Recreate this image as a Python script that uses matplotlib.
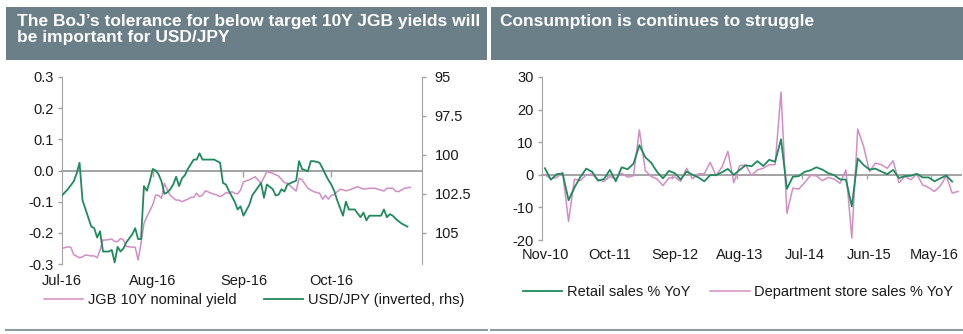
import pandas as pd
import numpy as np
import matplotlib
matplotlib.use('Agg')
import matplotlib.pyplot as plt
import matplotlib.dates as mdates
from matplotlib.patches import Rectangle
from matplotlib.lines import Line2D

plt.rcParams['font.family'] = ['Liberation Sans', 'DejaVu Sans']
plt.rcParams['axes.unicode_minus'] = False

# ---- left panel: JGB 10Y vs USD/JPY (days counted from 1 Jul 2016) ----
start = pd.Timestamp('2016-07-01')
jgb_day = [0, 2, 3, 4, 6, 7, 8, 10, 11, 12, 13, 14, 15, 17, 18, 19, 20, 21, 22, 24,
           25, 26, 27, 28, 29, 31, 32, 33, 34, 35, 36, 37, 39, 40, 41, 43, 44, 45, 46, 47,
           48, 49, 51, 53, 54, 55, 56, 57, 58, 59, 60, 61, 62, 64, 66, 68, 70, 72, 74, 76,
           77, 80, 81, 82, 84, 86, 88, 89, 90, 91, 92, 93, 95, 97, 98, 101, 103, 105, 107, 110,
           111, 113, 114, 115, 117, 119]
jgb_yield = [-0.25, -0.245, -0.246, -0.27, -0.28, -0.277, -0.271, -0.274, -0.274, -0.28,
             -0.255, -0.223, -0.223, -0.22, -0.228, -0.228, -0.218, -0.223, -0.244, -0.246,
             -0.246, -0.287, -0.234, -0.17, -0.148, -0.11, -0.079, -0.08, -0.089, -0.041,
             -0.063, -0.08, -0.095, -0.095, -0.1, -0.092, -0.086, -0.086, -0.073, -0.084,
             -0.079, -0.065, -0.073, -0.079, -0.084, -0.079, -0.071, -0.073, -0.068, -0.073,
             -0.075, -0.063, -0.036, -0.03, -0.02, -0.041, -0.004, -0.009, -0.018, -0.039,
             -0.041, -0.066, -0.025, -0.03, -0.057, -0.068, -0.073, -0.092, -0.08, -0.092,
             -0.08, -0.077, -0.06, -0.065, -0.063, -0.052, -0.06, -0.057, -0.057, -0.066,
             -0.057, -0.057, -0.066, -0.068, -0.057, -0.054]

usd_day = [0, 2, 4, 5, 6, 7, 10, 11, 12, 13, 14, 16, 17, 18, 19, 20, 21, 22, 24, 25,
           26, 27, 28, 29, 30, 31, 32, 33, 34, 35, 36, 37, 38, 39, 40, 41, 42, 43, 45, 46,
           47, 48, 50, 52, 54, 55, 56, 57, 59, 60, 61, 62, 64, 65, 68, 69, 70, 72, 73, 74,
           75, 76, 77, 80, 81, 82, 84, 85, 86, 88, 89, 90, 91, 92, 93, 94, 96, 97, 98, 100,
           102, 103, 104, 105, 107, 109, 110, 111, 112, 113, 114, 116, 118]
usd_jpy = [102.6, 102.2, 101.7, 101.2, 100.5, 102.9, 104.6, 104.7, 105.3, 104.9,
           106.2, 106.2, 106.1, 106.9, 105.9, 106.2, 106.0, 105.6, 105.1, 104.7,
           105.4, 105.4, 102.0, 102.3, 101.7, 100.9, 101.0, 101.25, 101.7, 102.5,
           102.4, 102.2, 101.9, 101.4, 102.0, 101.5, 101.3, 100.9, 100.3, 100.3,
           99.9, 100.3, 100.3, 100.3, 100.5, 101.8, 101.9, 102.3, 103.0, 103.5,
           103.3, 103.9, 103.2, 102.6, 101.8, 102.75, 101.9, 102.2, 102.6, 102.55,
           102.2, 102.35, 101.9, 101.65, 100.4, 100.9, 101.05, 100.4, 100.4, 100.5,
           100.85, 101.25, 101.6, 101.9, 102.3, 102.9, 103.9, 103.0, 103.5, 103.5,
           104.0, 103.7, 104.2, 103.9, 103.9, 103.9, 103.5, 104.0, 103.8, 103.9,
           104.1, 104.4, 104.6]

left_yticks = [-0.3, -0.2, -0.1, 0.0, 0.1, 0.2, 0.3]
right_yticks = [95, 97.5, 100, 102.5, 105]
month_starts = pd.to_datetime(['2016-07-01', '2016-08-01', '2016-09-01', '2016-10-01'])

# ---- right panel: monthly, Nov-10 onwards ----
retail = [2.0, -1.5, 0.2, 0.4, -7.8, -3.9, -0.7, 1.9, 0.9, -1.8,
          -1.3, 1.5, -2.0, 2.3, 1.7, 3.4, 9.1, 5.4, 3.7, 0.9,
          -1.1, 1.2, 0.5, -1.4, 1.0, 0.0, -0.8, -2.0, -0.1, -0.1,
          0.8, 1.8, 0.0, 1.5, 2.9, 2.6, 4.2, 2.7, 4.6, 4.0,
          10.9, -4.3, -0.6, -0.4, 0.9, 1.4, 2.3, 1.6, 0.5, -0.1,
          -1.4, -1.5, -9.7, 5.0, 3.0, 1.6, 1.9, 1.0, 0.2, 1.5,
          -1.0, -0.4, -0.3, 0.3, -0.8, -0.8, -2.0, -1.1, -0.2, -2.1]
dept_store = [0.0, -1.2, -0.8, 0.7, -14.3, -1.3, -1.8, 0.0, 0.2, -1.5,
              -2.0, -0.5, -1.2, 0.5, -0.7, -0.3, 13.8, 1.3, -0.5, -1.3,
              -3.3, -1.0, -0.7, -2.0, 2.0, -1.2, 0.3, 0.3, 3.8, -0.3,
              2.4, 7.2, -2.4, 2.8, 3.0, -0.2, 1.5, 2.0, 3.1, 3.1,
              25.4, -11.8, -4.1, -4.4, -2.4, -0.2, -0.3, -1.8, -0.8, -1.3,
              -2.6, 1.5, -19.4, 14.0, 8.7, 1.0, 3.6, 3.1, 2.0, 4.3,
              -2.4, -0.5, -1.5, 0.2, -3.1, -3.9, -5.1, -3.4, -0.3, -5.6, -5.1]
months = pd.date_range('2010-11-01', periods=len(dept_store), freq='MS')
cons_yticks = [-20, -10, 0, 10, 20, 30]

GREEN = '#1f8a5b'
PINK = '#d48cc6'
HEADER = '#6b7f88'
GREY = '#a3a3a3'
TXT = '#1a1a1a'
FS = 10.5

W, H = 963, 334
fig = plt.figure(figsize=(W / 100, H / 100), dpi=100)


def px(x0, y0, x1, y1):
    return [x0 / W, 1 - y1 / H, (x1 - x0) / W, (y1 - y0) / H]


def style_axis(ax, tick_pos, tick_len, label_pos, labels, pad):
    # the x axis crosses at zero (with small ticks); the labels sit at the bottom
    for s in ['top', 'right']:
        ax.spines[s].set_visible(False)
    ax.spines['left'].set_color(GREY)
    ax.spines['bottom'].set_position(('data', 0))
    ax.spines['bottom'].set_color(GREY)
    ax.spines['bottom'].set_linewidth(1.4)
    ax.set_xticks(tick_pos)
    ax.tick_params(axis='x', direction='out', length=tick_len, width=1,
                   color=GREY, labelbottom=False)
    ax.tick_params(axis='y', direction='out', length=3, width=1, color=GREY,
                   pad=3, labelsize=FS, labelcolor=TXT)
    sec = ax.secondary_xaxis('bottom')
    sec.set_xticks(label_pos)
    sec.set_xticklabels(labels)
    sec.tick_params(length=0, pad=pad, labelsize=FS, labelcolor=TXT)
    sec.spines['bottom'].set_visible(False)
    ax.patch.set_visible(False)


# header boxes and rules
for x0, x1 in [(6, 487), (491, 963)]:
    fig.add_artist(Rectangle((x0 / W, 1 - 60 / H), (x1 - x0) / W, 53 / H,
                             transform=fig.transFigure, color=HEADER, lw=0))
    fig.add_artist(Line2D([x0 / W, x1 / W], [1 - 330 / H] * 2,
                          transform=fig.transFigure, color='#8d9ca2', lw=1.5))
fig.text(17 / W, 1 - 14 / H,
         "The BoJ\u2019s tolerance for below target 10Y JGB yields will\nbe important for USD/JPY",
         color='white', fontsize=12.5, fontweight='bold', va='top', linespacing=1.12)
fig.text(500 / W, 1 - 14 / H, "Consumption is continues to struggle",
         color='white', fontsize=12.5, fontweight='bold', va='top')

# ---- left chart ----
ax1 = fig.add_axes(px(62, 77, 422, 264))
jgb_dates = start + pd.to_timedelta(jgb_day, unit='D')
usd_dates = start + pd.to_timedelta(usd_day, unit='D')
l1, = ax1.plot(jgb_dates, jgb_yield, color=PINK, lw=1.1, zorder=3)
ax1.set_ylim(-0.3, 0.3)
ax1.set_xlim(pd.Timestamp('2016-07-01'), pd.Timestamp('2016-11-01'))
ax1.set_yticks(left_yticks)
ax1.set_yticklabels([f'{v:.1f}' for v in left_yticks])
m_num = mdates.date2num(month_starts)
style_axis(ax1, m_num[1:], 4, m_num, [d.strftime('%b-%y') for d in month_starts], 7)

ax2 = ax1.twinx()
l2, = ax2.plot(usd_dates, usd_jpy, color=GREEN, lw=1.3)
ax2.set_ylim(107, 95)
ax2.set_yticks(right_yticks)
ax2.set_yticklabels([f'{v:g}' for v in right_yticks])
ax2.tick_params(axis='y', direction='out', length=3, width=1, color=GREY,
                pad=6, labelsize=FS, labelcolor=TXT)
for s in ['top', 'bottom', 'left']:
    ax2.spines[s].set_visible(False)
ax2.spines['right'].set_color(GREY)

fig.legend([l1, l2], ['JGB 10Y nominal yield', 'USD/JPY (inverted, rhs)'],
           loc='center', bbox_to_anchor=(254 / W, 1 - 300 / H), ncol=2,
           frameon=False, fontsize=FS, handlelength=2.7, handletextpad=0.3,
           columnspacing=1.9, labelcolor=TXT)

# ---- right chart ----
ax3 = fig.add_axes(px(542, 77, 961, 240))
idx_r = np.arange(len(retail))
idx_d = np.arange(len(dept_store))
l4, = ax3.plot(idx_d, dept_store, color=PINK, lw=1.1, zorder=3)
l3, = ax3.plot(idx_r, retail, color=GREEN, lw=1.3, zorder=4)
ax3.set_xlim(-0.5, len(dept_store) - 0.5)
ax3.set_ylim(-20, 30)
ax3.set_yticks(cons_yticks)
ax3.set_yticklabels([str(v) for v in cons_yticks])
lab_idx = idx_d[::11]
style_axis(ax3, lab_idx[1:] - 0.5, 3, lab_idx,
           [months[i].strftime('%b-%y') for i in lab_idx], 6)

fig.legend([l3, l4], ['Retail sales % YoY', 'Department store sales % YoY'],
           loc='center', bbox_to_anchor=(738 / W, 1 - 292 / H), ncol=2,
           frameon=False, fontsize=FS, handlelength=2.7, handletextpad=0.3,
           columnspacing=1.4, labelcolor=TXT)

fig.savefig('out.png', dpi=100)
